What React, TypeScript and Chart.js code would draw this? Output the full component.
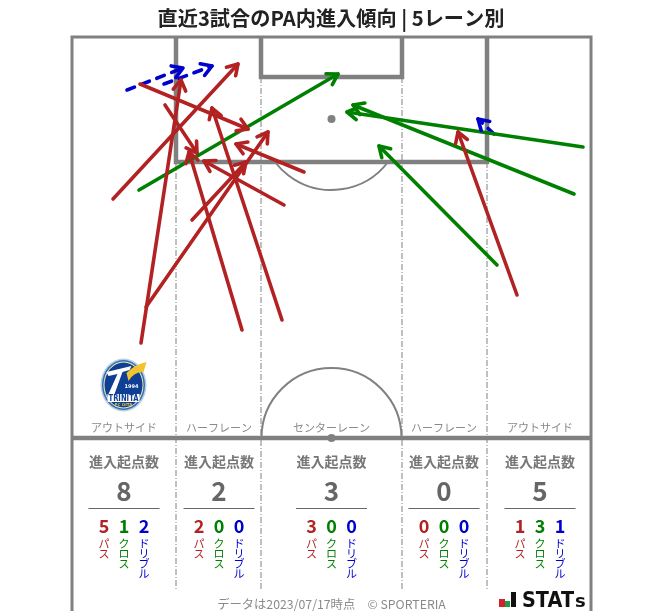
import React, { useEffect, useRef } from "react";
import { Chart, registerables } from "chart.js";

Chart.register(...registerables);

const title = "直近3試合のPA内進入傾向 | 5レーン別";
const laneLabels = ["アウトサイド", "ハーフレーン", "センターレーン", "ハーフレーン", "アウトサイド"];
const laneCenters = [124, 219, 331.5, 444, 540];
const totals = [8, 2, 3, 0, 5];
const passCounts = [5, 2, 3, 0, 1];
const crossCounts = [1, 0, 0, 0, 3];
const dribbleCounts = [2, 0, 0, 0, 1];

const passStartX = [141, 113, 140, 165, 146, 242, 192, 282, 304, 284, 517];
const passStartY = [343, 199, 84, 105, 307, 330, 220, 320, 172, 205, 295];
const passEndX = [181, 238, 248, 197, 268, 189, 246, 212, 236, 204, 458];
const passEndY = [80, 64, 129, 153, 132, 152, 162, 108, 144, 161, 132];

const crossStartX = [139, 583, 574, 497];
const crossStartY = [190, 147, 194, 265];
const crossEndX = [338, 347, 353, 379];
const crossEndY = [74, 112, 105, 146];

const dribbleStartX = [127, 164, 494];
const dribbleStartY = [90, 84, 134];
const dribbleEndX = [183, 212, 478];
const dribbleEndY = [68, 66, 119];

const RED = "#b22222";
const GREEN = "#008000";
const BLUE = "#0000cd";
const LINE = "#808080";
const FONT = '"Noto Sans CJK JP", "Noto Sans", sans-serif';

function arrowSets(xs: number[], ys: number[], xe: number[], ye: number[], color: string, dash: number[]) {
  return xs.map((x, i) => ({
    type: "line" as const,
    data: [{ x, y: ys[i] }, { x: xe[i], y: ye[i] }],
    borderColor: color,
    borderWidth: 3.6,
    borderDash: dash,
    borderCapStyle: "round" as const,
    pointRadius: 0,
    tension: 0,
    parsing: false as const,
  }));
}

const pitchPlugin = {
  id: "pitch",
  beforeDatasetsDraw(chart: any) {
    const { ctx, scales } = chart;
    const X = (v: number) => scales.x.getPixelForValue(v);
    const Y = (v: number) => scales.y.getPixelForValue(v);
    const poly = (pts: number[][], w: number, dash: number[] = []) => {
      ctx.beginPath();
      pts.forEach((p, i) => (i ? ctx.lineTo(X(p[0]), Y(p[1])) : ctx.moveTo(X(p[0]), Y(p[1]))));
      ctx.lineWidth = w;
      ctx.strokeStyle = LINE;
      ctx.setLineDash(dash);
      ctx.stroke();
      ctx.setLineDash([]);
    };
    ctx.save();
    ctx.lineJoin = "miter";
    // lane dividers
    [[176, 162], [261, 77], [402, 77], [487, 162]].forEach(([x, y]) =>
      poly([[x, y], [x, 591]], 1, [6, 2, 1, 2])
    );
    // arcs
    ctx.strokeStyle = LINE;
    ctx.lineWidth = 2;
    ctx.beginPath();
    ctx.arc(X(331.5), Y(119), 71, Math.asin(43 / 71), Math.PI - Math.asin(43 / 71));
    ctx.stroke();
    ctx.beginPath();
    ctx.arc(X(331.5), Y(438), 70, Math.PI, 2 * Math.PI);
    ctx.stroke();
    // frame
    poly([[72, 611], [72, 37], [591, 37], [591, 611]], 3);
    poly([[72, 438], [591, 438]], 4.5);
    poly([[176, 37], [176, 162], [487, 162], [487, 37]], 4.5);
    poly([[261, 37], [261, 77], [402, 77], [402, 37]], 4.5);
    // spots
    ctx.fillStyle = LINE;
    [[331.5, 119], [331.5, 438]].forEach(([x, y]) => {
      ctx.beginPath();
      ctx.arc(X(x), Y(y), 4, 0, Math.PI * 2);
      ctx.fill();
    });
    drawLogo(ctx, X(123.5), Y(385));
    drawStats(ctx);
    ctx.restore();
  },
  afterDatasetsDraw(chart: any) {
    const { ctx } = chart;
    ctx.save();
    ctx.lineCap = "round";
    ctx.lineJoin = "round";
    chart.data.datasets.forEach((d: any, i: number) => {
      const pts = chart.getDatasetMeta(i).data;
      const a = pts[0];
      const b = pts[1];
      const ang = Math.atan2(b.y - a.y, b.x - a.x);
      const L = 12;
      ctx.strokeStyle = d.borderColor;
      ctx.lineWidth = 3.6;
      ctx.beginPath();
      ctx.moveTo(b.x - L * Math.cos(ang - 0.55), b.y - L * Math.sin(ang - 0.55));
      ctx.lineTo(b.x, b.y);
      ctx.lineTo(b.x - L * Math.cos(ang + 0.55), b.y - L * Math.sin(ang + 0.55));
      ctx.stroke();
    });
    ctx.restore();
    drawTexts(ctx, chart);
  },
};

function drawLogo(ctx: CanvasRenderingContext2D, cx: number, cy: number) {
  const ell = (rx: number, ry: number, c: string) => {
    ctx.beginPath();
    ctx.ellipse(cx, cy, rx, ry, 0, 0, Math.PI * 2);
    ctx.fillStyle = c;
    ctx.fill();
  };
  ell(23, 26.5, "#b9cfe6");
  ell(21.5, 25, "#2f6fb5");
  ell(20, 23.5, "#f3e9b0");
  ell(19, 22.5, "#0f3f94");
  // white T
  ctx.fillStyle = "#ffffff";
  ctx.beginPath();
  ctx.moveTo(cx - 17, cy - 13);
  ctx.lineTo(cx + 8, cy - 19);
  ctx.lineTo(cx + 6, cy - 15);
  ctx.lineTo(cx - 1, cy - 13);
  ctx.lineTo(cx - 9, cy + 9);
  ctx.lineTo(cx - 15, cy + 9);
  ctx.lineTo(cx - 6, cy - 11);
  ctx.lineTo(cx - 15, cy - 9);
  ctx.closePath();
  ctx.fill();
  // wing
  ctx.fillStyle = "#f2c230";
  ctx.beginPath();
  ctx.moveTo(cx + 3, cy - 12);
  ctx.quadraticCurveTo(cx + 12, cy - 21, cx + 23, cy - 23);
  ctx.lineTo(cx + 20, cy - 13);
  ctx.quadraticCurveTo(cx + 10, cy - 13, cx + 5, cy - 4);
  ctx.closePath();
  ctx.fill();
  // banner
  ctx.fillStyle = "#ffffff";
  ctx.fillRect(cx - 16, cy + 9, 32, 8);
  ctx.fillStyle = "#0f3f94";
  ctx.font = `bold 8px "DejaVu Sans", sans-serif`;
  ctx.textAlign = "center";
  ctx.textBaseline = "middle";
  ctx.fillText("TRINITA", cx, cy + 13.5, 30);
  ctx.fillStyle = "#ffffff";
  ctx.font = `bold 5px "DejaVu Sans", sans-serif`;
  ctx.fillText("1994", cx + 8, cy + 2, 14);
  ctx.fillStyle = "#f2c230";
  ctx.font = `bold 4px "DejaVu Sans", sans-serif`;
  ctx.fillText("FC OITA", cx, cy + 20, 18);
}

function drawStats(ctx: CanvasRenderingContext2D) {
  ctx.fillStyle = "#d2232a";
  ctx.fillRect(499, 599, 6, 8);
  ctx.fillStyle = "#1e9e4a";
  ctx.fillRect(505, 601, 5, 6);
  ctx.fillStyle = "#111111";
  ctx.fillRect(511, 592, 5, 15);
  ctx.font = 'bold 21px "DejaVu Sans", sans-serif';
  ctx.textAlign = "left";
  ctx.textBaseline = "alphabetic";
  ctx.fillText("STAT", 522, 607, 52);
  ctx.font = 'bold 18px "DejaVu Sans", sans-serif';
  ctx.fillText("s", 575, 607);
}

function drawTexts(ctx: CanvasRenderingContext2D, chart: any) {
  const { scales } = chart;
  const X = (v: number) => scales.x.getPixelForValue(v);
  const put = (t: string, x: number, y: number, font: string, color: string) => {
    ctx.font = font;
    ctx.fillStyle = color;
    ctx.fillText(t, x, y);
  };
  ctx.save();
  ctx.textAlign = "center";
  ctx.textBaseline = "middle";
  put(title, 331, 18, `bold 20.2px ${FONT}`, "#222222");
  laneCenters.forEach((c, i) => {
    const x = X(c);
    put(laneLabels[i], x, 428, `11px ${FONT}`, "#8a8a8a");
    put("進入起点数", x, 462, `bold 14px ${FONT}`, "#777777");
    put(String(totals[i]), x, 491, `bold 26px ${FONT}`, "#666666");
    ctx.strokeStyle = "#666666";
    ctx.lineWidth = 1;
    ctx.beginPath();
    ctx.moveTo(x - 35.5, 508.5);
    ctx.lineTo(x + 35.5, 508.5);
    ctx.stroke();
    const groups: [number, number[], string, string][] = [
      [-20, passCounts, RED, "パス"],
      [0, crossCounts, GREEN, "クロス"],
      [20, dribbleCounts, BLUE, "ドリブル"],
    ];
    groups.forEach(([dx, vals, col, word]) => {
      put(String(vals[i]), x + dx, 526, `bold 18px ${FONT}`, col);
      Array.from(word).forEach((ch, k) => {
        put(ch, x + dx, 543.5 + k * 10.2, `11px ${FONT}`, col);
      });
    });
  });
  put("データは2023/07/17時点　© SPORTERIA", 331.5, 604, `12.3px ${FONT}`, "#8a8a8a");
  ctx.restore();
}

export default function App() {
  const ref = useRef<HTMLCanvasElement>(null);
  useEffect(() => {
    const chart = new Chart(ref.current as HTMLCanvasElement, {
      type: "line",
      data: {
        datasets: [
          ...arrowSets(passStartX, passStartY, passEndX, passEndY, RED, []),
          ...arrowSets(crossStartX, crossStartY, crossEndX, crossEndY, GREEN, []),
          ...arrowSets(dribbleStartX, dribbleStartY, dribbleEndX, dribbleEndY, BLUE, [8, 8]),
        ],
      } as any,
      options: {
        responsive: false,
        animation: false,
        devicePixelRatio: 1,
        layout: { padding: 0 },
        plugins: { legend: { display: false }, tooltip: { enabled: false }, title: { display: false } },
        scales: {
          x: { type: "linear", min: 0, max: 663, display: false },
          y: { type: "linear", min: 0, max: 611, reverse: true, display: false },
        },
      },
      plugins: [pitchPlugin],
    } as any);
    return () => chart.destroy();
  }, []);
  return (
    <canvas
      ref={ref}
      width={663}
      height={611}
      style={{ position: "absolute", left: 0, top: 0, width: 663, height: 611, display: "block" }}
    />
  );
}
